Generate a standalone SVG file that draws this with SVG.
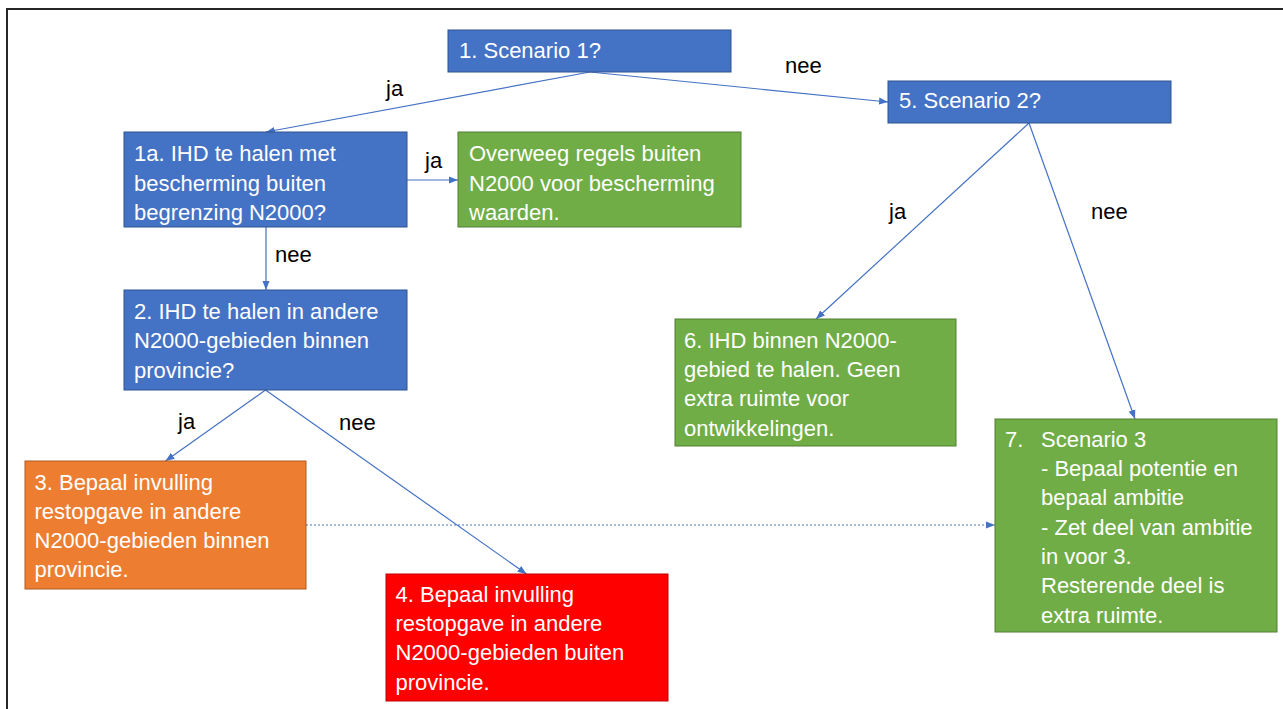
<svg xmlns="http://www.w3.org/2000/svg" width="1283" height="709" viewBox="0 0 1283 709">
  <style>
    .box text { font-family: "Liberation Sans", Arial, sans-serif; font-size: 22px; fill: #ffffff; }
    .blue rect { fill: #4472C4; stroke: #2F528F; stroke-width: 1; }
    .green rect { fill: #70AD47; stroke: #507E32; stroke-width: 1; }
    .orange rect { fill: #ED7D31; stroke: #AE5A21; stroke-width: 1; }
    .red rect { fill: #FF0000; stroke: #C00000; stroke-width: 1; }
    .conn line { stroke: #4472C4; stroke-width: 1.2; fill: none; marker-end: url(#arrow); }
    .conn line.dotted { stroke-dasharray: 2 2; }
    .lbl { font-family: "Liberation Sans", Arial, sans-serif; font-size: 22px; fill: #000000; }
  </style>
  <defs>
    <marker id="arrow" markerUnits="userSpaceOnUse" markerWidth="10" markerHeight="8" refX="9" refY="4" orient="auto">
      <path d="M0,0.5 L9,4 L0,7.5 Z" fill="#4472C4"/>
    </marker>
  </defs>
  <rect x="0" y="0" width="1283" height="709" fill="#ffffff"/>
  <path d="M7,712 V9 H1286" fill="none" stroke="#262626" stroke-width="2"/>

  <g id="connectors" class="conn">
    <line x1="590" y1="72" x2="266" y2="132"/>
    <line x1="590" y1="72" x2="888" y2="102"/>
    <line x1="407" y1="180" x2="458" y2="180"/>
    <line x1="266" y1="227" x2="266" y2="290"/>
    <line x1="265.5" y1="390" x2="165.5" y2="461"/>
    <line x1="265.5" y1="390" x2="526.5" y2="574"/>
    <line class="dotted" x1="306" y1="525" x2="995" y2="525"/>
    <line x1="1029" y1="123" x2="816" y2="319"/>
    <line x1="1029" y1="123" x2="1135" y2="419"/>
  </g>

  <g id="labels">
    <text class="lbl" x="386" y="96">ja</text>
    <text class="lbl" x="785" y="73">nee</text>
    <text class="lbl" x="425" y="168">ja</text>
    <text class="lbl" x="275" y="262">nee</text>
    <text class="lbl" x="178" y="429">ja</text>
    <text class="lbl" x="339" y="430">nee</text>
    <text class="lbl" x="889" y="219">ja</text>
    <text class="lbl" x="1091" y="219">nee</text>
  </g>

  <g id="node1" class="box blue">
    <rect x="448" y="30" width="283" height="42"/>
    <text x="459" y="58">1. Scenario 1?</text>
  </g>
  <g id="node5" class="box blue">
    <rect x="888" y="81" width="283" height="42"/>
    <text x="899" y="107.5">5. Scenario 2?</text>
  </g>
  <g id="node1a" class="box blue">
    <rect x="124" y="132" width="283" height="95"/>
    <text x="134" y="161">1a. IHD te halen met</text>
    <text x="134" y="190.5">bescherming buiten</text>
    <text x="134" y="219.5">begrenzing N2000?</text>
  </g>
  <g id="nodeOverweeg" class="box green">
    <rect x="458" y="132" width="283" height="95"/>
    <text x="469" y="161">Overweeg regels buiten</text>
    <text x="469" y="190.5">N2000 voor bescherming</text>
    <text x="469" y="219.5">waarden.</text>
  </g>
  <g id="node2" class="box blue">
    <rect x="124" y="290" width="283" height="100"/>
    <text x="134" y="319">2. IHD te halen in andere</text>
    <text x="134" y="348.3">N2000-gebieden binnen</text>
    <text x="134" y="377.6">provincie?</text>
  </g>
  <g id="node3" class="box orange">
    <rect x="25" y="461" width="281" height="128"/>
    <text x="34.5" y="489.5">3. Bepaal invulling</text>
    <text x="34.5" y="518.8">restopgave in andere</text>
    <text x="34.5" y="548.1">N2000-gebieden binnen</text>
    <text x="34.5" y="577.4">provincie.</text>
  </g>
  <g id="node4" class="box red">
    <rect x="386" y="574" width="282" height="127"/>
    <text x="395.5" y="601.7">4. Bepaal invulling</text>
    <text x="395.5" y="631">restopgave in andere</text>
    <text x="395.5" y="660.3">N2000-gebieden buiten</text>
    <text x="395.5" y="689.6">provincie.</text>
  </g>
  <g id="node6" class="box green">
    <rect x="675" y="319" width="281" height="127"/>
    <text x="684" y="347.7">6. IHD binnen N2000-</text>
    <text x="684" y="377">gebied te halen. Geen</text>
    <text x="684" y="406.3">extra ruimte voor</text>
    <text x="684" y="435.6">ontwikkelingen.</text>
  </g>
  <g id="node7" class="box green">
    <rect x="995" y="419" width="282" height="213"/>
    <text x="1005" y="446.7">7.</text>
    <text x="1041" y="446.7">Scenario 3</text>
    <text x="1041" y="476">- Bepaal potentie en</text>
    <text x="1041" y="505.3">bepaal ambitie</text>
    <text x="1041" y="534.6">- Zet deel van ambitie</text>
    <text x="1041" y="563.9">in voor 3.</text>
    <text x="1041" y="593.2">Resterende deel is</text>
    <text x="1041" y="622.5">extra ruimte.</text>
  </g>
</svg>
